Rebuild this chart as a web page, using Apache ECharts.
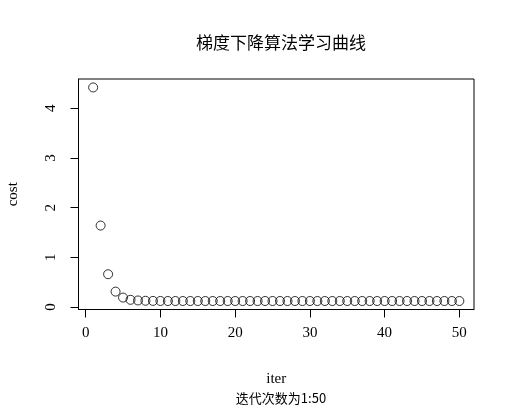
<!DOCTYPE html>
<html><head><meta charset="utf-8">
<script src="https://cdn.jsdelivr.net/npm/echarts@6/dist/echarts.min.js"></script>
<style>html,body{margin:0;padding:0;background:#fff}#c{width:514px;height:408px}</style>
</head><body><div id="c"></div>
<script>
var iters = [];
for (var i = 1; i <= 50; i++) iters.push(i);
var cost = [4.42, 1.64, 0.66, 0.31, 0.19, 0.145, 0.132, 0.126, 0.123, 0.122,
  0.121, 0.121, 0.121, 0.121, 0.121, 0.121, 0.121, 0.121, 0.121, 0.121,
  0.121, 0.121, 0.121, 0.121, 0.121, 0.121, 0.121, 0.121, 0.121, 0.121,
  0.121, 0.121, 0.121, 0.121, 0.121, 0.121, 0.121, 0.121, 0.121, 0.121,
  0.121, 0.121, 0.121, 0.121, 0.121, 0.121, 0.121, 0.121, 0.121, 0.121];
var xTicks = [0, 10, 20, 30, 40, 50];
var yTicks = [0, 1, 2, 3, 4];
var titleText = '梯度下降算法学习曲线';
var subText = '迭代次数为1:50';

var serif = '"Liberation Serif", "DejaVu Serif", serif';
var cjk = '"Noto Sans CJK SC", sans-serif';
var chart = echarts.init(document.getElementById('c'), null, {renderer: 'canvas'});
chart.setOption({
  backgroundColor: '#fff',
  animation: false,
  title: [
    {text: titleText, left: 276, top: 29, textAlign: 'center',
     textStyle: {fontFamily: cjk, fontSize: 17, fontWeight: 'normal', color: '#000'}},
    {text: subText, left: 276, top: 387, textAlign: 'center',
     textStyle: {fontFamily: cjk, fontSize: 13, fontWeight: 'normal', color: '#000'}}
  ],
  grid: {left: 78.5, right: 40, top: 79, bottom: 98.5, show: true,
         outerBoundsMode: 'none', containLabel: false,
         borderColor: '#000', borderWidth: 1, backgroundColor: '#fff'},
  xAxis: {
    type: 'value', min: -0.96, max: 51.96,
    name: 'iter', nameLocation: 'middle', nameGap: 62,
    nameTextStyle: {fontFamily: serif, fontSize: 15, color: '#000'},
    axisLine: {show: true, onZero: false, lineStyle: {color: '#000'}},
    axisTick: {show: true, length: 8, customValues: xTicks, lineStyle: {color: '#000'}},
    axisLabel: {customValues: xTicks, fontFamily: serif, fontSize: 15, color: '#000', margin: 16},
    splitLine: {show: false}
  },
  yAxis: {
    type: 'value', min: -0.05, max: 4.59,
    name: 'cost', nameLocation: 'middle', nameGap: 58, nameRotate: 90,
    nameTextStyle: {fontFamily: serif, fontSize: 15, color: '#000'},
    axisLine: {show: true, onZero: false, lineStyle: {color: '#000'}},
    axisTick: {show: true, length: 8, customValues: yTicks, lineStyle: {color: '#000'}},
    axisLabel: {customValues: yTicks, rotate: 90, fontFamily: serif, fontSize: 15, color: '#000', margin: 20},
    splitLine: {show: false}
  },
  series: [{
    type: 'scatter',
    data: iters.map(function (x, k) { return [x, cost[k]]; }),
    symbol: 'circle', symbolSize: 9,
    itemStyle: {color: 'rgba(255,255,255,0)', borderColor: '#000', borderWidth: 1}
  }]
});
</script></body></html>
